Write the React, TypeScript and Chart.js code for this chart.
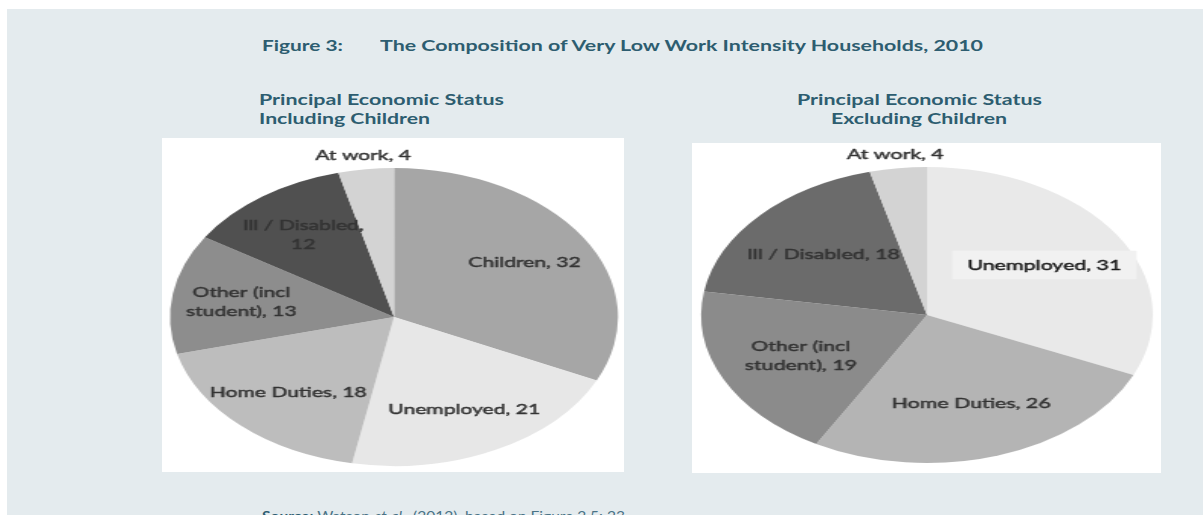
import React, { useEffect, useLayoutEffect, useRef } from "react";
import { Chart, registerables } from "chart.js";

Chart.register(...registerables);

// ---------------- data ----------------
const leftCategories = ["Children", "Unemployed", "Home Duties", "Other (incl student)", "Ill / Disabled", "At work"];
const leftValues = [32, 21, 18, 13, 12, 4];

const rightCategories = ["Unemployed", "Home Duties", "Other (incl student)", "Ill / Disabled", "At work"];
const rightValues = [31, 26, 19, 18, 4];

const figureTitle = "The Composition of Very Low Work Intensity Households, 2010";
const leftSubtitle = ["Principal Economic Status", "Including Children"];
const rightSubtitle = ["Principal Economic Status", "Excluding Children"];

// ---------------- styles ----------------
const leftColors = ["#a6a6a6", "#e7e7e7", "#bdbdbd", "#8d8d8d", "#505050", "#d3d3d3"];
const rightColors = ["#e9e9e9", "#b4b4b4", "#8b8b8b", "#6b6b6b", "#d3d3d3"];
const leftWrapAfter = ["", "", "", "(incl", ",", ""];
const rightWrapAfter = ["", "", "(incl", "", ""];
const leftBoxed = [false, false, false, false, false, false];
const rightBoxed = [true, false, false, false, false];

const TEAL = "#2d5d70";

function makeLines(cats: string[], vals: number[], wraps: string[]): string[][] {
  return cats.map((c, i) => {
    const full = `${c}, ${vals[i]}`;
    const tok = wraps[i];
    if (!tok) return [full];
    const idx = full.indexOf(tok);
    if (idx < 0) return [full];
    const cut = idx + tok.length;
    return [full.slice(0, cut).trim(), full.slice(cut).trim()];
  });
}

const pieLabelPlugin = {
  id: "pieLabels",
  afterDatasetsDraw(chart: any, _args: any, opts: any) {
    const { ctx } = chart;
    const meta = chart.getDatasetMeta(0);
    const data: number[] = chart.data.datasets[0].data;
    const total = data.reduce((a, b) => a + b, 0);
    meta.data.forEach((arc: any, i: number) => {
      const p = arc.getProps(["x", "y", "startAngle", "endAngle", "outerRadius"], true);
      const mid = (p.startAngle + p.endAngle) / 2;
      const frac = data[i] / total;
      const rf = frac < opts.smallThreshold ? opts.outsideFactor : opts.insideFactor;
      const lx = p.x + Math.cos(mid) * p.outerRadius * rf;
      const ly = p.y + Math.sin(mid) * p.outerRadius * rf;
      const lines: string[] = opts.lines[i];
      ctx.save();
      ctx.font = opts.font;
      ctx.textAlign = "center";
      ctx.textBaseline = "middle";
      const lh = opts.lineHeight;
      const y0 = ly - ((lines.length - 1) * lh) / 2;
      const boxed = opts.boxed && opts.boxed[i];
      if (boxed) {
        const w = Math.max(...lines.map((t) => ctx.measureText(t).width));
        const bw = w + 2 * opts.boxPadX;
        const bh = lines.length * lh + 2 * opts.boxPadY - 4;
        ctx.fillStyle = opts.boxColor;
        ctx.fillRect(lx - bw / 2, ly - bh / 2, bw, bh);
      }
      const col = boxed ? opts.boxTextColor : opts.color;
      ctx.fillStyle = col;
      ctx.strokeStyle = col;
      ctx.lineWidth = opts.strokeWidth;
      ctx.lineJoin = "round";
      lines.forEach((t, k) => {
        ctx.strokeText(t, lx, y0 + k * lh + 1);
        ctx.fillText(t, lx, y0 + k * lh + 1);
      });
      ctx.restore();
    });
  },
};

type PieProps = {
  left: number; top: number; width: number; height: number;
  cx: number; cy: number; r: number; sx: number;
  categories: string[]; values: number[]; colors: string[];
  wraps: string[]; boxed: boolean[]; insideFactor: number;
};

function PieBox(props: PieProps) {
  const ref = useRef<HTMLCanvasElement>(null);
  const { left, top, width, height, cx, cy, r, sx } = props;
  const W = Math.round(width / sx);
  const H = height;
  useEffect(() => {
    if (!ref.current) return;
    const cxi = (cx - left) / sx;
    const cyi = cy - top;
    const chart = new Chart(ref.current, {
      type: "pie",
      data: {
        labels: props.categories,
        datasets: [{ data: props.values, backgroundColor: props.colors, borderWidth: 0, hoverOffset: 0 }],
      },
      options: {
        animation: false,
        responsive: false,
        layout: {
          padding: {
            left: cxi - r,
            right: W - cxi - r,
            top: cyi - r,
            bottom: H - cyi - r,
          },
        },
        plugins: {
          legend: { display: false },
          tooltip: { enabled: false },
          title: { display: false },
          pieLabels: {
            lines: makeLines(props.categories, props.values, props.wraps),
            insideFactor: props.insideFactor,
            outsideFactor: 1.1,
            smallThreshold: 0.06,
            font: "14px Lato",
            color: "#333333",
            strokeWidth: 0.45,
            lineHeight: 18.5,
            boxed: props.boxed,
            boxColor: "#f1f1f1",
            boxTextColor: "#1c1c1c",
            boxPadX: 10,
            boxPadY: 7,
          },
        } as any,
      },
      plugins: [pieLabelPlugin as any],
    });
    return () => chart.destroy();
  }, []);
  return (
    <>
      <div style={{ position: "absolute", left, top, width, height, background: "#ffffff" }} />
      <canvas
        ref={ref}
        width={W}
        height={H}
        style={{ position: "absolute", left, top, transform: `scaleX(${sx})`, transformOrigin: "0 0" }}
      />
    </>
  );
}

type FitProps = {
  left: number; cy: number; width: number; size: number; weight?: number;
  color?: string; children: React.ReactNode;
};

function FitText({ left, cy, width, size, weight = 700, color = TEAL, children }: FitProps) {
  const ref = useRef<HTMLSpanElement>(null);
  useLayoutEffect(() => {
    const el = ref.current;
    if (!el) return;
    el.style.transform = "none";
    const w = el.getBoundingClientRect().width;
    if (w > 0) el.style.transform = `scaleX(${width / w})`;
  }, [width]);
  return (
    <span
      ref={ref}
      style={{
        position: "absolute",
        left,
        top: cy - 0.53 * size,
        fontFamily: "Lato, 'Open Sans', sans-serif",
        fontSize: size,
        fontWeight: weight,
        lineHeight: `${size}px`,
        whiteSpace: "nowrap",
        color,
        transformOrigin: "0 0",
      }}
    >
      {children}
    </span>
  );
}

export default function App() {
  return (
    <div
      style={{
        position: "fixed", left: 0, top: 0, width: 1203, height: 515,
        overflow: "hidden", background: "#ffffff",
      }}
    >
      <div style={{ position: "absolute", left: 7, top: 9, right: 0, bottom: 0, background: "#e4ebee" }} />

      <FitText left={262} cy={46} width={81} size={15}>Figure 3:</FitText>
      <FitText left={380} cy={46} width={603} size={15}>{figureTitle}</FitText>

      <FitText left={259} cy={100} width={245} size={15}>{leftSubtitle[0]}</FitText>
      <FitText left={259} cy={119} width={171} size={15}>{leftSubtitle[1]}</FitText>
      <FitText left={797} cy={100} width={245} size={15}>{rightSubtitle[0]}</FitText>
      <FitText left={831} cy={119} width={176} size={15}>{rightSubtitle[1]}</FitText>

      <PieBox
        left={162} top={138} width={462} height={334}
        cx={394} cy={317} r={149} sx={1.503}
        categories={leftCategories} values={leftValues} colors={leftColors}
        wraps={leftWrapAfter} boxed={leftBoxed} insideFactor={0.69}
      />
      <PieBox
        left={692} top={143} width={469} height={330}
        cx={927} cy={315} r={148} sx={1.526}
        categories={rightCategories} values={rightValues} colors={rightColors}
        wraps={rightWrapAfter} boxed={rightBoxed} insideFactor={0.62}
      />

      <FitText left={262} cy={516} width={363} size={14} weight={400} color="#4a7386">
        <b style={{ color: TEAL }}>Source:</b> Watson <i>et al.</i>, (2012), based on Figure 2.5: 23
      </FitText>
    </div>
  );
}
